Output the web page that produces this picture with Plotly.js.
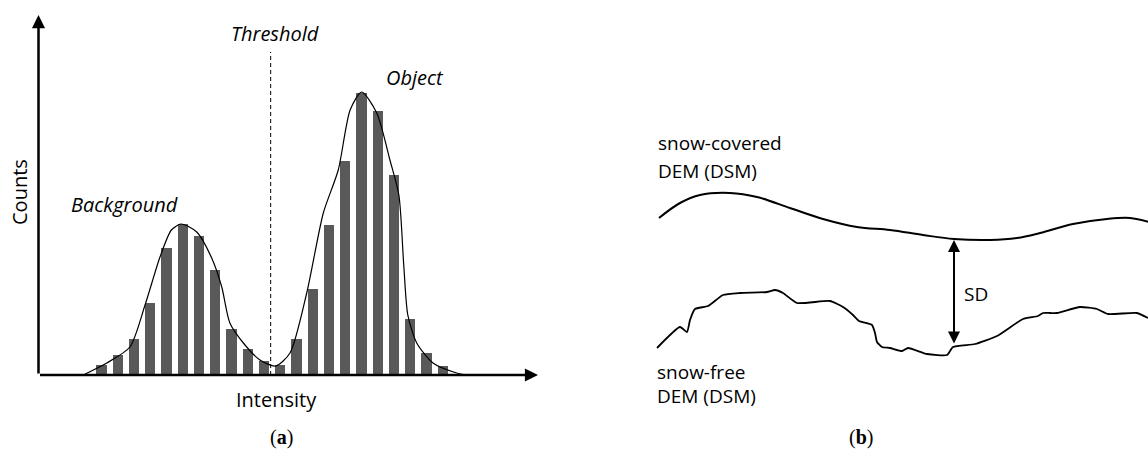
<!DOCTYPE html>
<html>
<head>
<meta charset="utf-8">
<script src="https://cdn.plot.ly/plotly-3.0.1.min.js"></script>
<style>html,body{margin:0;padding:0;background:#fff;}#chart{width:1148px;height:450px;}</style>
</head>
<body>
<div id="chart"></div>
<script>
// ---- Panel (a): intensity histogram ----
const binIndex = [1,2,3,4,5,6,7,8,9,10,11,12,13,14,15,16,17,18,19,20,21,22];
const binCounts = [10,20,36,72,127,151,139,105,46,26,14,10,36,86,150,214,282,264,200,56,22,9];
// fitted density curve (bin-index units, counts)
const curveX = [-0.12,1.32,2.75,3.68,4.6,5.3,5.9,6.86,7.78,8.4,8.9,9.73,10.75,11.72,12.6,13.63,14.65,15.57,16.3,17.01,17.94,18.75,19.3,19.6,19.85,20.4,21.4,22.86,23.5];
const curveY = [0,12,28,70,118,145,151,143,117,88,52,32,15,9,22,82,162,205,265,283,262,215,180,110,60,32,12,2,0];
const thresholdX = 11.41;
const thresholdTop = 323;

// ---- Panel (b): snow depth schematic ----
const coveredDist = [2,23,43,73,100,133,166,200,233,266,297,333,360,383,416,450,473,492];
const coveredElev = [182,197,205,207,203,192,181,173,170,165,161,160,162,167,176,181,182,178];
const freeDist = [0,23,30,33,38,51,66,83,110,118,126,140,173,186,196,202,215,218,220,225,233,245,251,270,290,296,318,340,366,381,386,393,400,423,440,451,480,491];
const freeElev = [52,73,68,80,91,94,105,107,108,110,107,97,99,93,85,79,75,67,58,53,52,49,52,46,45,53,56,64,81,84,87,87,87,93,91,86,87,82];
const sdDist = 297, sdTop = 160, sdBottom = 55;

const FONT = "Open Sans, Noto Sans, sans-serif";

const traces = [
  {type:'bar', x: binIndex, y: binCounts, width: 0.62, marker:{color:'#595959', line:{width:0}}, xaxis:'x', yaxis:'y', hoverinfo:'skip'},
  {type:'scatter', mode:'lines', x: curveX, y: curveY, line:{color:'#000', width:1.2, shape:'spline', smoothing:0.7}, xaxis:'x', yaxis:'y', hoverinfo:'skip'},
  {type:'scatter', mode:'lines', x:[thresholdX, thresholdX], y:[0, thresholdTop], line:{color:'#000', width:1, dash:'4px,3px'}, xaxis:'x', yaxis:'y', hoverinfo:'skip'},
  {type:'scatter', mode:'lines', x: coveredDist, y: coveredElev, line:{color:'#000', width:2, shape:'spline', smoothing:1}, xaxis:'x2', yaxis:'y2', hoverinfo:'skip'},
  {type:'scatter', mode:'lines', x: freeDist, y: freeElev, line:{color:'#000', width:1.8, shape:'spline', smoothing:0.5}, xaxis:'x2', yaxis:'y2', hoverinfo:'skip'}
];

const W = 1148, H = 450;
const px = v => v / W, py = v => 1 - v / H;
const xMin = -2.877, xMax = 27.862, yMax = 360;

function txt(text, x, y, opts) {
  return Object.assign({text: text, xref:'paper', yref:'paper', x: px(x), y: py(y), showarrow:false,
    xanchor:'center', yanchor:'middle', font:{family: FONT, size:20, color:'#000'}}, opts || {});
}
const rightFont = {family: FONT, size:19, color:'#000'};
const serifFont = {family:'Liberation Serif, DejaVu Serif, serif', size:20, color:'#000'};

const annotations = [
  // axes with arrowheads
  {xref:'x', yref:'y', axref:'x', ayref:'y', x: xMin, y: yMax, ax: xMin, ay: 0, showarrow:true, arrowhead:2, arrowsize:1.05, arrowwidth:2.5, arrowcolor:'#000', standoff:0, text:''},
  {xref:'x', yref:'y', axref:'x', ayref:'y', x: xMax, y: 0, ax: xMin, ay: 0, showarrow:true, arrowhead:2, arrowsize:1.05, arrowwidth:2.5, arrowcolor:'#000', standoff:0, text:''},
  // SD arrow
  {xref:'x2', yref:'y2', axref:'x2', ayref:'y2', x: sdDist, y: sdTop, ax: sdDist, ay: sdBottom, showarrow:true, arrowhead:2, arrowsize:1.2, arrowwidth:2, arrowside:'end+start', arrowcolor:'#000', standoff:0, startstandoff:0, text:''},
  txt('<i>Threshold</i>', 275, 33),
  txt('<i>Object</i>', 415, 77),
  txt('<i>Background</i>', 124, 205),
  txt('Intensity', 276, 399),
  txt('Counts', 19, 192, {textangle:-90}),
  txt('(<b>a</b>)', 281, 437, {font: serifFont}),
  txt('(<b>b</b>)', 861, 437, {font: serifFont}),
  txt('snow-covered', 656, 143, {xanchor:'left', font: rightFont}),
  txt('DEM (DSM)', 656, 171, {xanchor:'left', font: rightFont}),
  txt('snow-free', 655, 372, {xanchor:'left', font: rightFont}),
  txt('DEM (DSM)', 655, 396, {xanchor:'left', font: rightFont}),
  txt('SD', 962, 294, {xanchor:'left', font: rightFont})
];

const hidden = {showgrid:false, zeroline:false, showticklabels:false, showline:false, ticks:'', fixedrange:true};

const layout = {
  width: W, height: H,
  margin:{l:0, r:0, t:0, b:0, pad:0},
  paper_bgcolor:'#fff', plot_bgcolor:'rgba(0,0,0,0)',
  showlegend:false,
  bargap: 0,
  xaxis: Object.assign({domain:[px(38.5), px(538)], range:[xMin, xMax]}, hidden),
  yaxis: Object.assign({domain:[1 - 375/H, 1 - 15/H], range:[0, yMax]}, hidden),
  xaxis2: Object.assign({domain:[0.5, 1], range:[-83, 491], anchor:'y2'}, hidden),
  yaxis2: Object.assign({domain:[0, 1], range:[-50, 400], anchor:'x2'}, hidden),
  annotations: annotations
};

Plotly.newPlot('chart', traces, layout, {staticPlot:true, displayModeBar:false});
</script>
</body>
</html>
